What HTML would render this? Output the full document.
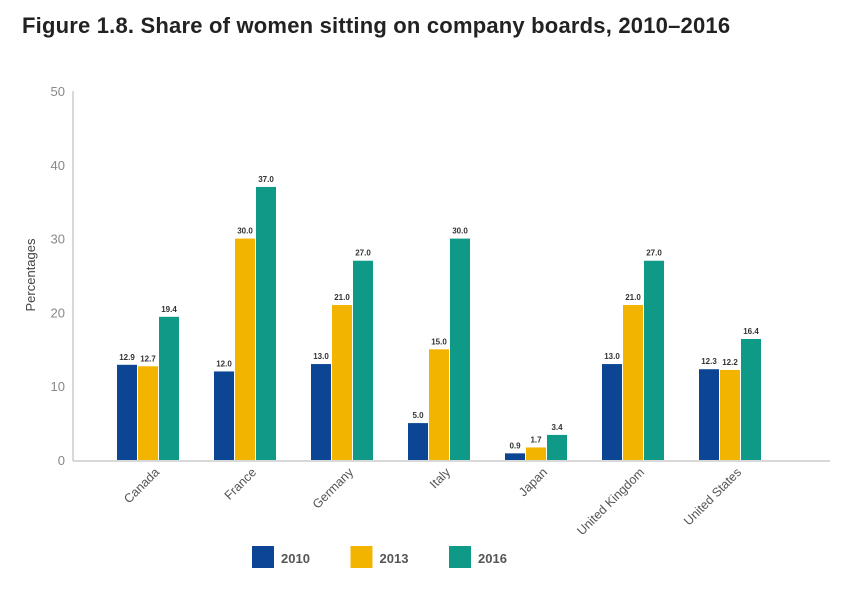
<!DOCTYPE html>
<html><head><meta charset="utf-8"><style>
body{margin:0;background:#fff;}
svg{display:block;font-family:"Liberation Sans",sans-serif;}
</style></head><body>
<svg id="chart" width="858" height="591">
<text x="22" y="33" font-size="22" font-weight="bold" fill="#222" letter-spacing="0.2">Figure 1.8. Share of women sitting on company boards, 2010–2016</text>
<g id="plot"></g>
</svg>
<script>
const categories=["Canada","France","Germany","Italy","Japan","United Kingdom","United States"];
const seriesNames=["2010","2013","2016"];
const v2010=[12.9,12.0,13.0,5.0,0.9,13.0,12.3];
const v2013=[12.7,30.0,21.0,15.0,1.7,21.0,12.2];
const v2016=[19.4,37.0,27.0,30.0,3.4,27.0,16.4];
const yTicks=[0,10,20,30,40,50];
const colors=["#0b4594","#f3b400","#0e9a86"];
const series=[v2010,v2013,v2016];
const NS="http://www.w3.org/2000/svg";
const g=document.getElementById("plot");
const y0=460,pxPer=7.38;
function y(v){return y0-v*pxPer;}
function x(i){return 117+i*97;}
function mk(t,a,p){const e=document.createElementNS(NS,t);for(const k in a)e.setAttribute(k,a[k]);(p||g).appendChild(e);return e;}
yTicks.forEach(t=>{
 const e=mk("text",{x:65,y:y(t)+5,"text-anchor":"end","font-size":"13",fill:"#888"});e.textContent=t;
 
 
});
const al=mk("line",{x1:73,y1:91,x2:73,y2:461,stroke:"#ccc","stroke-width":1.5});


const yt=mk("text",{x:0,y:0,transform:"translate(35,275) rotate(-90)","text-anchor":"middle","font-size":"13",fill:"#444"});
yt.textContent="Percentages";


categories.forEach((c,i)=>{
 series.forEach((s,j)=>{
  const bx=x(i)+j*21;
  const r=mk("rect",{x:bx,y:y(s[i]),width:20,height:s[i]*pxPer,fill:colors[j]});
  
  
  const t=mk("text",{x:bx+10,y:y(s[i])-5,"text-anchor":"middle","font-size":"8","font-weight":"bold",fill:"#333"});
  t.textContent=s[i].toFixed(1);
  
  
 });
 const cx=x(i)+31+12,cy=473;
 const l=mk("text",{x:cx,y:cy,transform:`rotate(-45 ${cx} ${cy})`,"text-anchor":"end","font-size":"12.5",fill:"#555"});
 l.textContent=c;
 
 
});
const xa=mk("line",{x1:73,y1:461,x2:830,y2:461,stroke:"#ccc","stroke-width":1.5});


seriesNames.forEach((n,j)=>{
 const lx=252+j*98.5;
 const r=mk("rect",{x:lx,y:546,width:22,height:22,fill:colors[j]});
 
 
 const t=mk("text",{x:lx+29,y:563,"font-size":"13","font-weight":"bold",fill:"#555"});
 t.textContent=n;
 
 
});
</script>
</body></html>
